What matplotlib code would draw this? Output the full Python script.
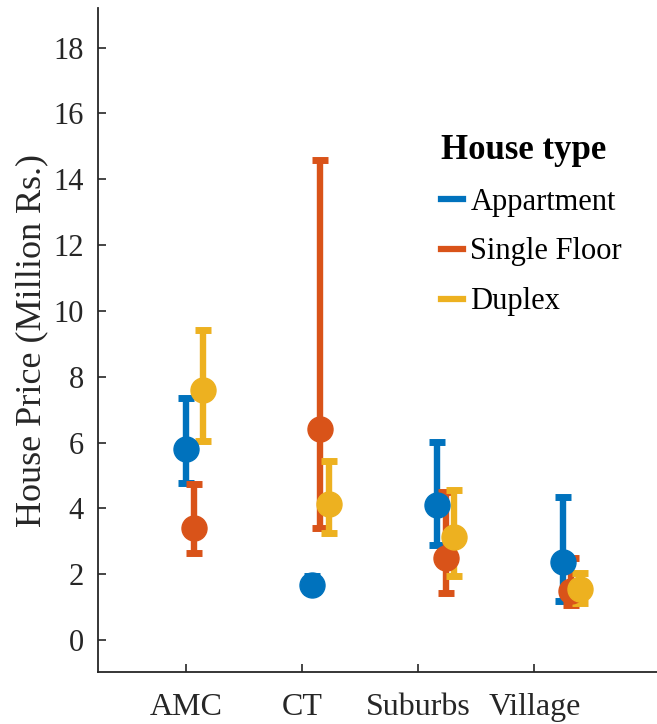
import matplotlib
matplotlib.use("Agg")
import matplotlib.pyplot as plt
from matplotlib.lines import Line2D
import numpy as np

plt.rcParams['font.family'] = ['Liberation Serif', 'DejaVu Serif']

categories = ["AMC", "CT", "Suburbs", "Village"]
series = ["Appartment", "Single Floor", "Duplex"]
colors = ["#0072BD", "#D95319", "#EDB120"]

# mean, lower bound, upper bound per series (Million Rs.)
app_mean = [5.82, 1.67, 4.09, 2.36]
app_low = [4.76, 1.45, 2.90, 1.18]
app_high = [7.36, 1.94, 6.03, 4.36]

single_mean = [3.42, 6.42, 2.48, 1.50]
single_low = [2.64, 3.42, 1.42, 1.06]
single_high = [4.73, 14.60, 4.50, 2.48]

duplex_mean = [7.60, 4.12, 3.12, 1.55]
duplex_low = [6.06, 3.24, 1.94, 1.12]
duplex_high = [9.42, 5.45, 4.55, 2.03]

means = [app_mean, single_mean, duplex_mean]
lows = [app_low, single_low, duplex_low]
highs = [app_high, single_high, duplex_high]

offsets = [-0.065, 0.0, 0.07]
group_x = np.arange(1, len(categories) + 1)
tick_x = 0.936 + np.arange(len(categories)) * 0.923

fig = plt.figure(figsize=(6.57, 7.24), dpi=100)
ax = fig.add_axes([0.149, 0.0718, 0.851, 0.917])

for m, lo, hi, off, c in zip(means, lows, highs, offsets, colors):
    m = np.array(m); lo = np.array(lo); hi = np.array(hi)
    ax.errorbar(group_x + off, m, yerr=[m - lo, hi - m], fmt='o', color=c,
                markersize=18, elinewidth=4.6, capsize=5.8, capthick=5.0,
                markeredgecolor=c)

ax.set_xlim(0.236, 4.68)
ax.set_ylim(-0.97, 19.2)
ax.set_yticks(np.arange(0, 19, 2))
ax.set_xticks(tick_x)
ax.set_xticklabels(categories, fontsize=23)
ax.spines['top'].set_visible(False)
ax.spines['right'].set_visible(False)
for s in ['left', 'bottom']:
    ax.spines[s].set_linewidth(1.3)
    ax.spines[s].set_color('#262626')
ax.tick_params(axis='both', direction='in', length=6, width=1.2, colors='#262626',
               labelcolor='#262626')
ax.tick_params(axis='y', pad=10, labelsize=22)
ax.tick_params(axis='x', pad=15, labelsize=23)
ax.set_ylabel("House Price (Million Rs.)", fontsize=26, color='#262626', labelpad=4)

handles = [Line2D([0], [0], color=c, lw=4.5) for c in colors]
leg = fig.legend(handles, series, loc='upper left', bbox_to_anchor=(0.63, 0.853),
                 frameon=False, fontsize=22, handlelength=0.7, handletextpad=0.25,
                 labelspacing=0.68, title="House type",
                 title_fontproperties={'weight': 'bold', 'size': 25})
leg._legend_box.align = "left"

fig.savefig("out.png", dpi=100)
